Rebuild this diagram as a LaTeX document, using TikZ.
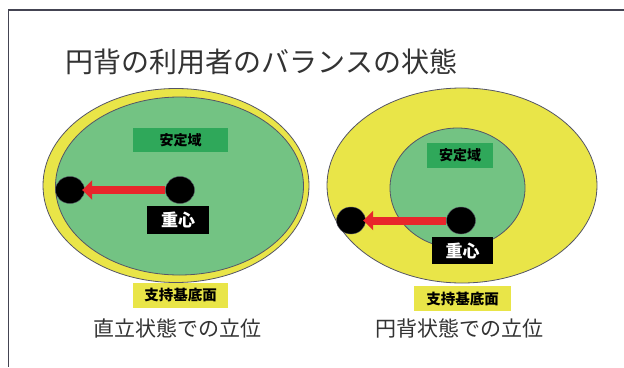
\documentclass[tikz,border=0pt]{standalone}
\usepackage{fontspec}
\newfontfamily\jp{Noto Sans CJK JP}
\usetikzlibrary{shapes.geometric,arrows.meta}
\definecolor{ygold}{HTML}{E9E548}
\definecolor{lgreen}{HTML}{73C383}
\definecolor{dgreen}{HTML}{2FA85A}
\definecolor{arrred}{HTML}{E8262B}
\definecolor{txtgray}{HTML}{333333}
\definecolor{edgegray}{HTML}{555566}
\tikzset{
  region/.style={ellipse, draw=edgegray, line width=0.8pt, inner sep=0pt},
  dot/.style={ellipse, fill=black, draw=edgegray, line width=0.4pt, minimum width=29pt, minimum height=27pt, inner sep=0pt},
  labelbox/.style={font=\jp\bfseries, inner sep=0pt, anchor=center},
  push/.style={draw=arrred, line width=8pt, -{Triangle[length=10pt,width=19pt]}, shorten >=-2.5pt},
  caption/.style={font=\jp, text=txtgray}
}
\begin{document}
\begin{tikzpicture}[x=1pt,y=-1pt]
\useasboundingbox (0,0) rectangle (624,367);
\draw[edgegray!80!black, line width=1.4pt] (624,10) -- (8.5,10) -- (8.5,367);
\node[caption, font=\jp\fontsize{28}{31}\selectfont] (title) at (261.5,62) {円背の利用者のバランスの状態};
% left figure
\node[region, fill=ygold, minimum width=266pt, minimum height=194pt] (outerL) at (176,185.5) {};
\node[region, fill=lgreen, minimum width=248pt, minimum height=178pt] (innerL) at (179.5,186) {};
\node[labelbox, fill=dgreen, minimum width=95pt, minimum height=24pt, font=\jp\bfseries\fontsize{14}{16}\selectfont] (stabL) at (180.5,140) {安定域};
\node[dot] (cgL) at (180,190) {};
\node[dot] (edgeL) at (70,190) {};
\draw[push] (cgL.west) -- (edgeL.east);
\node[labelbox, fill=black, text=white, minimum width=62pt, minimum height=28pt, font=\jp\bfseries\fontsize{17}{19}\selectfont] (gravL) at (178,220) {重心};
\node[labelbox, fill=ygold, minimum width=95pt, minimum height=25pt, font=\jp\bfseries\fontsize{14.5}{16}\selectfont] (baseL) at (180.5,295.5) {支持基底面};
\node[caption, font=\jp\fontsize{21}{24}\selectfont] (capL) at (177,328) {直立状態での立位};
% right figure
\node[region, fill=ygold, minimum width=270pt, minimum height=195pt] (outerR) at (462,185.5) {};
\node[region, fill=lgreen, minimum width=135pt, minimum height=120pt] (innerR) at (457.5,188) {};
\node[labelbox, fill=dgreen, minimum width=66pt, minimum height=25pt, font=\jp\bfseries\fontsize{14}{16}\selectfont] (stabR) at (460,155.5) {安定域};
\node[dot] (cgR) at (461,220.5) {};
\node[dot] (edgeR) at (351,220.5) {};
\draw[push] (cgR.west) -- (edgeR.east);
\node[labelbox, fill=black, text=white, minimum width=61pt, minimum height=27pt, font=\jp\bfseries\fontsize{17}{19}\selectfont] (gravR) at (462.5,250.5) {重心};
\node[labelbox, fill=ygold, minimum width=97pt, minimum height=25pt, font=\jp\bfseries\fontsize{14.5}{16}\selectfont] (baseR) at (462.5,298.5) {支持基底面};
\node[caption, font=\jp\fontsize{21}{24}\selectfont] (capR) at (459,328) {円背状態での立位};
\end{tikzpicture}
\end{document}
